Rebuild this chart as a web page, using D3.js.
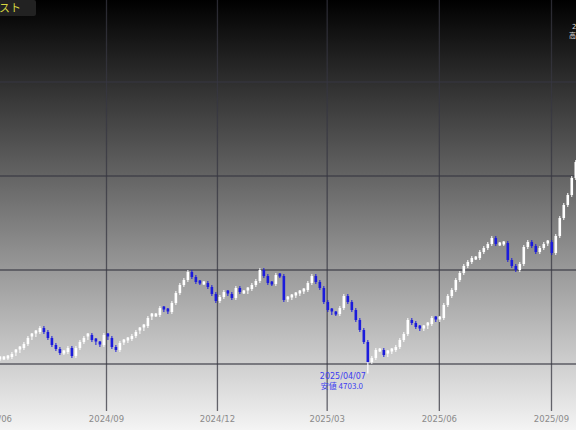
<!DOCTYPE html>
<html><head><meta charset="utf-8">
<script src="https://cdn.jsdelivr.net/npm/d3@7"></script>
<style>body{margin:0;background:#000}svg{display:block}</style>
</head><body>
<svg id="c" width="576" height="430"></svg>
<script>
const closes = [4780,4780,4785,4800,4815,4830,4850,4880,4895,4910,4930,4910,4880,4845,4825,4805,4810,4830,4790,4830,4860,4880,4895,4870,4855,4845,4895,4880,4835,4820,4855,4865,4875,4890,4910,4925,4940,4980,4995,4995,5030,5020,5010,5055,5105,5145,5170,5210,5185,5160,5155,5155,5135,5100,5065,5085,5110,5100,5080,5130,5110,5110,5125,5145,5165,5220,5190,5155,5150,5195,5190,5070,5080,5090,5100,5110,5120,5155,5190,5160,5130,5060,5020,5005,5000,5030,5090,5060,5020,4970,4920,4860,4760,4780,4820,4820,4795,4810,4820,4835,4870,4900,4970,4955,4935,4925,4935,4950,4980,4970,4980,5045,5090,5120,5170,5205,5240,5260,5280,5280,5310,5330,5350,5380,5350,5350,5355,5270,5240,5220,5250,5335,5360,5340,5310,5330,5350,5360,5305,5390,5480,5545,5595,5680,5760];
const startDate = "2024-06-06";
const stepDays = 3.28;
const gridValues = [4750,5220,5690,6160];
const tickDates = ["2024-06-01","2024-09-01","2024-12-01","2025-03-01","2025-06-01","2025-09-01"];
const tickLabels = ["2024/06","2024/09","2024/12","2025/03","2025/06","2025/09"];
const lowInfo = {date:"2025/04/07", label:"安値 4703.0", value:4703};

const svg = d3.select("#c");
const W=576,H=430;
const defs = svg.append("defs");
const g = defs.append("linearGradient").attr("id","bg").attr("x1",0).attr("x2",0).attr("y1",0).attr("y2",1);
g.append("stop").attr("offset","0").attr("stop-color","#000");
g.append("stop").attr("offset","0.5").attr("stop-color","#7a7a7a");
g.append("stop").attr("offset","1").attr("stop-color","#f4f4f4");
svg.append("rect").attr("width",W).attr("height",H).attr("fill","url(#bg)");

const x = d3.scaleTime().domain([new Date("2024-09-01"),new Date("2025-09-01")]).range([106,551]);
const y = d3.scaleLinear().domain([4750,6160]).range([364,82]);
const t0 = new Date(startDate).getTime();
const data = closes.map((c,i)=>({d:new Date(t0+i*stepDays*864e5), o: i?closes[i-1]:c-5, c}));

const gridCol = "rgba(55,55,65,0.75)";
svg.append("g").selectAll("line").data(gridValues).join("line")
  .attr("x1",0).attr("x2",W).attr("y1",d=>y(d)).attr("y2",d=>y(d))
  .attr("stroke",gridCol).attr("stroke-width",1.3);
const xa = svg.append("g").attr("transform","translate(0,411)")
  .call(d3.axisBottom(x).tickValues(tickDates.map(d=>new Date(d))).tickFormat((d,i)=>tickLabels[i]).tickSizeOuter(0));
xa.select(".domain").remove();
xa.selectAll("line").attr("y1",-411).attr("y2",0).attr("stroke",gridCol).attr("stroke-width",1.3);
xa.selectAll("text").attr("y",5).attr("fill","#8a8a8a").attr("font-family","DejaVu Sans").attr("font-size",8.5);

const cg = svg.append("g");
data.forEach(p=>{
  const up = p.c>=p.o, col = up?"#ffffff":"#1c1cdc";
  const cx = x(p.d);
  const hi = Math.max(p.o,p.c)+10, lo = Math.min(p.o,p.c)-10;
  cg.append("line").attr("x1",cx).attr("x2",cx).attr("y1",y(hi)).attr("y2",y(lo)).attr("stroke",col).attr("stroke-width",1);
  const top=y(Math.max(p.o,p.c)), h=Math.max(3,Math.abs(y(p.o)-y(p.c)));
  cg.append("rect").attr("x",cx-1.3).attr("width",2.6).attr("y",top-(h===3?1.5:0)).attr("height",h).attr("fill",col);
});
const lowIdx = d3.minIndex(data,d=>d.c);
const lx = x(data[lowIdx].d);
cg.append("line").attr("x1",lx).attr("x2",lx).attr("y1",y(data[lowIdx].c)).attr("y2",y(lowInfo.value)).attr("stroke","#fff").attr("stroke-width",1.2);
svg.append("text").attr("x",lx-48).attr("y",379).text(lowInfo.date).attr("fill","#3c3cf0").attr("font-size",8).attr("font-family","DejaVu Sans");
svg.append("text").attr("x",lx-47).attr("y",389).text(lowInfo.label).attr("fill","#3c3cf0").attr("font-size",8).attr("font-family","Noto Sans CJK JP");

svg.append("rect").attr("x",-2).attr("y",0).attr("width",38).attr("height",16).attr("rx",2).attr("fill","#222");
svg.append("text").attr("x",21).attr("y",12).attr("text-anchor","end").text("テスト").attr("fill","#d8d840").attr("font-size",11).attr("font-family","Noto Sans CJK JP");
svg.append("text").attr("x",572).attr("y",29).text("2025").attr("fill","#ddd").attr("font-size",7).attr("font-family","DejaVu Sans");
svg.append("text").attr("x",569).attr("y",38).text("高値").attr("fill","#ddd").attr("font-size",7).attr("font-family","Noto Sans CJK JP");
</script></body></html>
